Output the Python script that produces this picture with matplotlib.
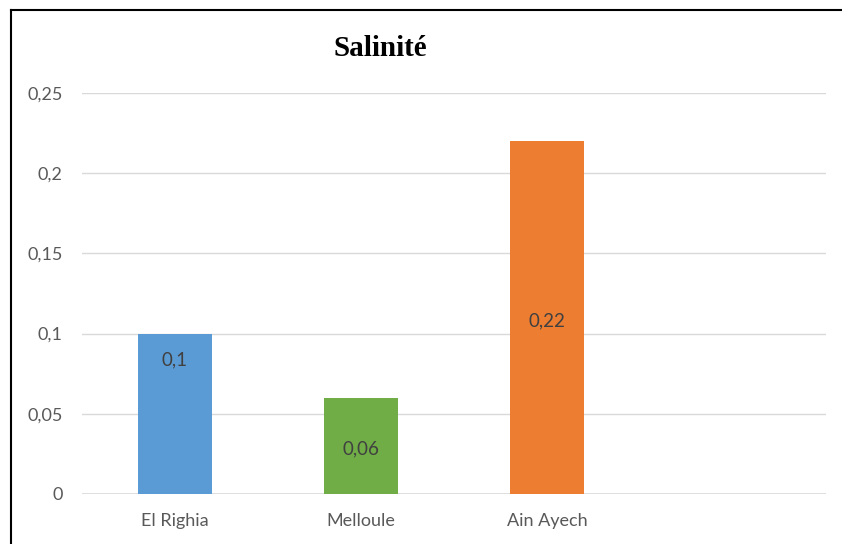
import matplotlib.pyplot as plt
from matplotlib.lines import Line2D
from matplotlib.ticker import FuncFormatter

# data
stations = ['El Righia', 'Melloule', 'Ain Ayech', '']
salinite = [0.1, 0.06, 0.22, None]
bar_colors = ['#5B9BD5', '#70AD47', '#ED7D31', '#FFFFFF']
# where the value labels sit (data units, as in the original)
label_y = [0.0835, 0.028, 0.108]

TEXT_COLOR = '#595959'
GRID_COLOR = '#D9D9D9'

fig = plt.figure(figsize=(8.42, 5.44), dpi=100)
ax = fig.add_axes([82 / 842, 1 - 494 / 544, 744 / 842, 401 / 544])

xs = list(range(len(stations)))
vals = [v if v is not None else 0 for v in salinite]
ax.bar(xs, vals, width=0.4, color=bar_colors, zorder=3)

for x, v, ly in zip(xs, salinite, label_y):
    ax.text(x, ly, f'{v:g}'.replace('.', ','), ha='center', va='center',
            fontsize=13.5, color='#404040', family='Lato', zorder=4)

ax.set_xlim(-0.5, len(stations) - 0.5)
ax.set_ylim(0, 0.25)
ax.set_yticks([0, 0.05, 0.1, 0.15, 0.2, 0.25])
ax.yaxis.set_major_formatter(FuncFormatter(lambda v, p: f'{v:g}'.replace('.', ',')))
ax.set_xticks(xs)
ax.set_xticklabels(stations)

ax.grid(axis='y', color=GRID_COLOR, linewidth=1, zorder=0)
for s in ['top', 'right', 'left', 'bottom']:
    ax.spines[s].set_visible(False)
ax.axhline(0, color=GRID_COLOR, linewidth=1.2, zorder=2)
ax.tick_params(length=0, labelsize=13, labelcolor=TEXT_COLOR)
ax.tick_params(axis='x', pad=14)
ax.tick_params(axis='y', pad=14)
for lbl in ax.get_xticklabels() + ax.get_yticklabels():
    lbl.set_family('Lato')

fig.text(380 / 842, 1 - 48 / 544, 'Salinité', ha='center', va='center',
         fontsize=21, fontweight='bold', family='Liberation Serif')

# chart frame (cut off on the right and bottom)
fig.add_artist(Line2D([10.5 / 842, 10.5 / 842], [0, 1 - 10 / 544], color='black',
                      linewidth=1.5, transform=fig.transFigure))
fig.add_artist(Line2D([10.5 / 842, 1], [1 - 10 / 544, 1 - 10 / 544], color='black',
                      linewidth=1.5, transform=fig.transFigure))

plt.savefig('out.png', dpi=100)
plt.close()
